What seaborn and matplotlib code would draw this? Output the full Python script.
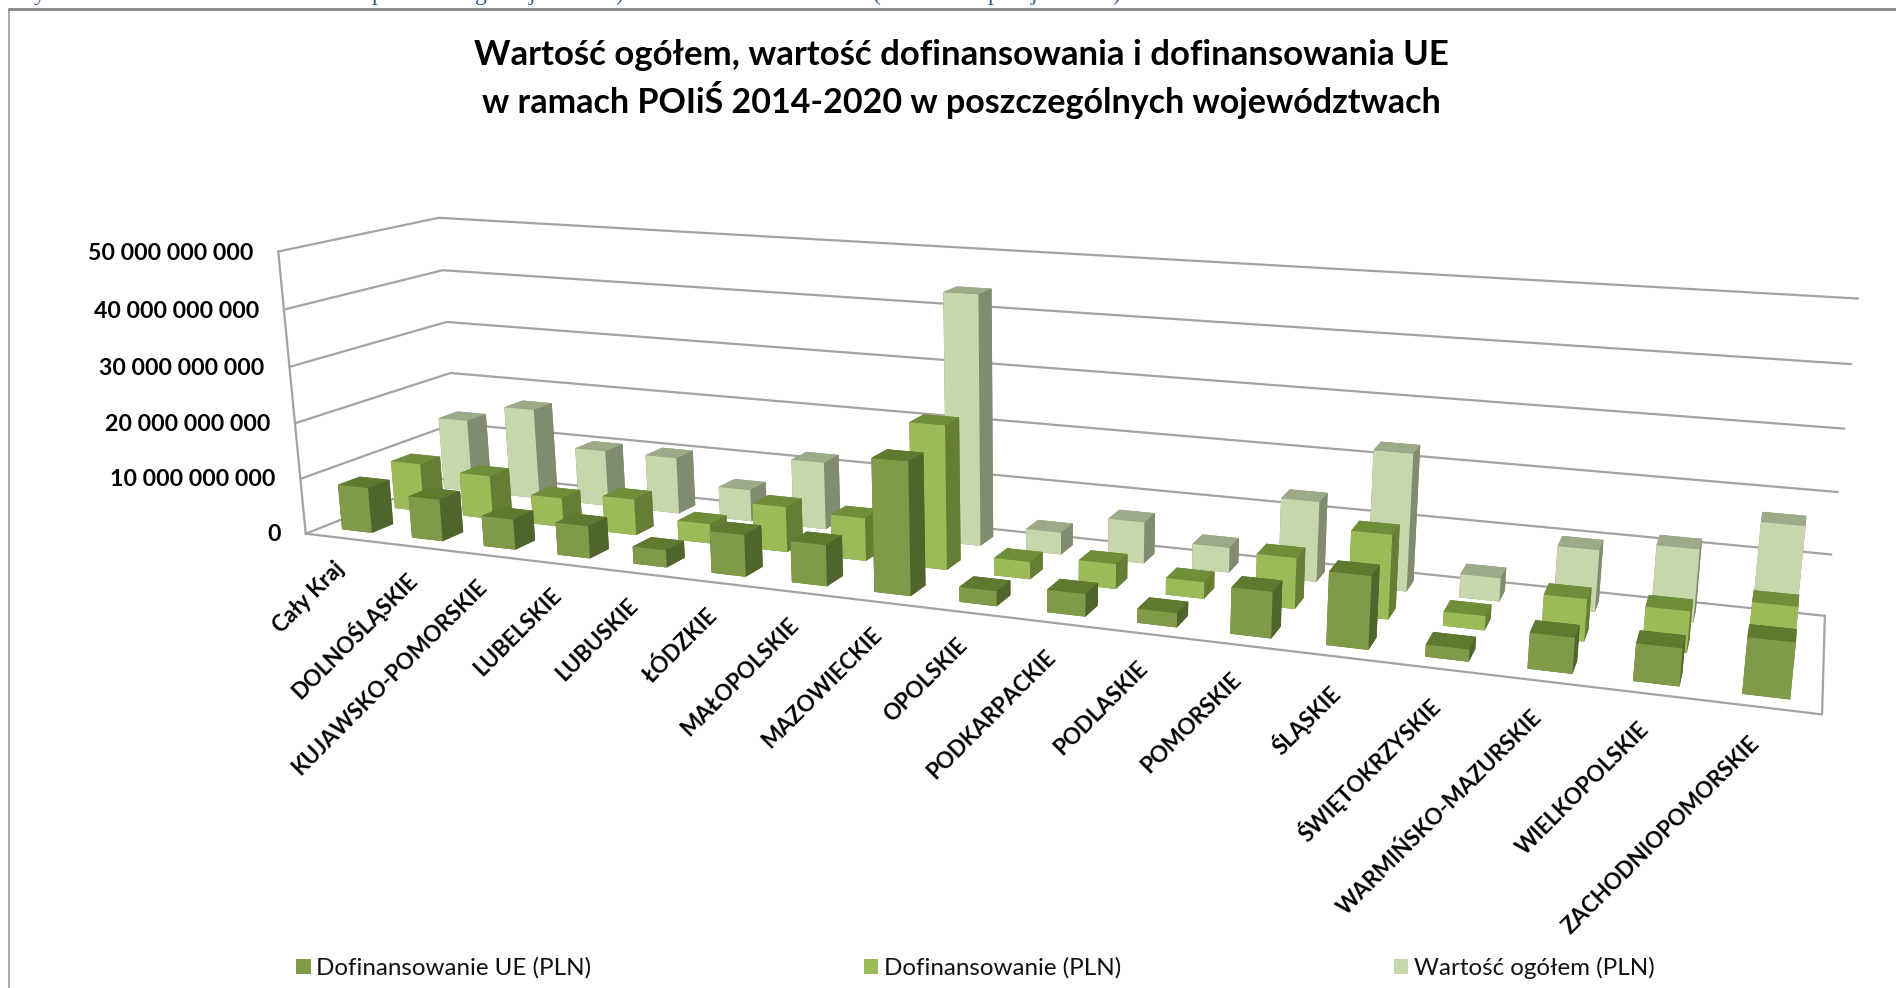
import numpy as np
import matplotlib
matplotlib.use("Agg")
import matplotlib.pyplot as plt
from matplotlib.lines import Line2D
from matplotlib.patches import Patch
from mpl_toolkits.mplot3d import proj3d
import seaborn as sns

# =============================================================================
# DATA (values in billions of PLN)
# =============================================================================
regions = ['Cały Kraj', 'DOLNOŚLĄSKIE', 'KUJAWSKO-POMORSKIE', 'LUBELSKIE', 'LUBUSKIE',
           'ŁÓDZKIE', 'MAŁOPOLSKIE', 'MAZOWIECKIE', 'OPOLSKIE', 'PODKARPACKIE',
           'PODLASKIE', 'POMORSKIE', 'ŚLĄSKIE', 'ŚWIĘTOKRZYSKIE', 'WARMIŃSKO-MAZURSKIE',
           'WIELKOPOLSKIE', 'ZACHODNIOPOMORSKIE']
dof_ue = [8.2, 7.5, 5.4, 5.7, 3.0, 7.2, 7.0, 22.3, 2.5, 3.7, 2.3, 7.4, 11.5, 1.9, 5.5, 5.7, 8.4]
dof = [8.9, 8.0, 5.3, 6.5, 3.5, 8.0, 7.5, 24.8, 3.0, 4.2, 2.8, 8.4, 13.7, 2.3, 6.7, 6.5, 8.9]
ogolem = [13.7, 17.0, 10.4, 10.4, 5.8, 12.2, 4.0, 44.0, 3.9, 7.2, 4.3, 13.6, 23.0, 3.9, 10.1, 11.8, 17.0]
z_ticks = [0, 10, 20, 30, 40, 50]
series_names = ['Dofinansowanie UE (PLN)', 'Dofinansowanie (PLN)', 'Wartość ogółem (PLN)']
title_lines = ['Wartość ogółem, wartość dofinansowania i dofinansowania UE',
               'w ramach POIiŚ 2014-2020 w poszczególnych województwach']
# the caption above the chart is cropped, only these descenders are left of it
caption_bits = ['y', 'p', 'g', 'j', ')', '(', 'p', 'j', ')']
caption_px = [40, 378, 481, 532, 619, 877, 994, 1034, 1116]

# front, top, side colour of each series
front_cols = ['#7F9A48', '#9BBB59', '#C6D7AC']
top_cols = ['#5F7A2F', '#6F8E3A', '#9CAA88']
side_cols = ['#50652B', '#667E33', '#7F8C70']

WIDTH, HEIGHT = 1896, 988
N_X, N_Y, Z_MAX = len(regions), 3, z_ticks[-1]
BAR_W, BAR_D = 0.43, 0.40

# corners of the chart box -> pixel position, to fit the Excel style perspective
corners = [
    ((0, 0, 0), (306, 532)),
    ((N_X, 0, 0), (1822, 716)),
    ((0, N_Y, 0), (458, 475)),
    ((N_X, N_Y, 0), (1825, 614)),
    ((0, 0, Z_MAX), (278, 252)),
    ((0, N_Y, Z_MAX), (439, 217)),
    ((N_X, N_Y, Z_MAX), (1858, 299)),
]


def fit_projection(pairs):
    A, b = [], []
    for (X, Y, Z), (u, v) in pairs:
        A.append([X, Y, Z, 1, 0, 0, 0, 0, -u * X, -u * Y, -u * Z])
        b.append(u)
        A.append([0, 0, 0, 0, X, Y, Z, 1, -v * X, -v * Y, -v * Z])
        b.append(v)
    h = np.linalg.lstsq(np.array(A, float), np.array(b, float), rcond=None)[0]
    w_row = np.r_[h[8:11], 1.0]
    return np.array([h[:4], h[4:8], w_row - [0, 0, 0, 0.5], w_row])


sns.set_theme(style='white')
plt.rcParams['font.family'] = ['Lato', 'DejaVu Sans']

fig = plt.figure(figsize=(WIDTH / 100, HEIGHT / 100), dpi=100, facecolor='white')
ax = fig.add_axes([0, 0, 1, 1], projection='3d', computed_zorder=False)
ax.set_proj_type('ortho')  # no clipping of lines, the matrix below does the perspective
M = fit_projection(corners)
ax.get_proj = lambda: M
ax.apply_aspect = lambda position=None: None
ax.viewLim.intervalx = (0, WIDTH)
ax.viewLim.intervaly = (HEIGHT, 0)
ax.set_axis_off()
ax.patch.set_visible(False)


def label_at(x, y, z, s, **kw):
    px, py, _ = proj3d.proj_transform(x, y, z, M)
    ax.text2D(px, py, s, transform=ax.transData, color='black', fontweight='bold', zorder=900, **kw)


# walls and floor
grid = dict(color='#A3A3A3', lw=1.6, zorder=1, solid_capstyle='round')
for z in z_ticks:
    ax.plot([0, 0, N_X], [0, N_Y, N_Y], [z, z, z], **grid)
    label_at(-0.36, 0, z - 0.6, f'{z * 10**9:,.0f}'.replace(',', ' '), ha='right', va='center', fontsize=16.7)
ax.plot([0, 0], [0, 0], [0, Z_MAX], **grid)
ax.plot([0, N_X, N_X], [0, 0, N_Y], [0, 0, 0], **grid)

# bars, back row first and left to right so that nearer ones cover the others
palette = sns.color_palette(front_cols)
for row, values in reversed(list(enumerate([dof_ue, dof, ogolem]))):
    for i, v in enumerate(values):
        # face order of bar3d: -z, +z, -y, +y, -x, +x
        cols = [side_cols[row], top_cols[row], palette[row], side_cols[row], side_cols[row], side_cols[row]]
        ax.bar3d(i + 0.5 - BAR_W / 2, row + 0.5 - BAR_D / 2, 0, BAR_W, BAR_D, v,
                 color=cols, shade=False, linewidth=0, zorder=10 + (2 - row) * 100 + i)

# Excel spaces the category labels a bit tighter than the bars
for i, name in enumerate(regions):
    label_at(0.96 + 0.964 * i, -0.7, 0, name, rotation=45, ha='right', va='top', rotation_mode='anchor', fontsize=16)

fig.text(961 / WIDTH, 1 - 55 / HEIGHT, title_lines[0], ha='center', va='center', fontsize=25,
         fontweight='bold', color='black')
fig.text(961 / WIDTH, 1 - 100 / HEIGHT, title_lines[1], ha='center', va='center', fontsize=24.45,
         fontweight='bold', color='black')

for ch, px in zip(caption_bits, caption_px):
    fig.text(px / WIDTH, 0.9995, ch, ha='center', va='baseline', fontsize=17, color='#2F5C94',
             family='Liberation Serif')

handles = [Patch(facecolor=c, edgecolor='none') for c in front_cols]
fig.legend(handles, series_names, ncol=3, loc='center left', bbox_to_anchor=(296 / WIDTH, 1 - 968 / HEIGHT),
           frameon=False, fontsize=17.4, handlelength=0.6, handleheight=0.6, handletextpad=0.23,
           columnspacing=11.28, labelcolor='#111111', borderpad=0, borderaxespad=0)

# frame of the chart, cropped at the bottom and right of the picture
fig.add_artist(Line2D([9 / WIDTH, 9 / WIDTH], [0, 1 - 9 / HEIGHT], color='#9A9A9A', lw=1.2))
fig.add_artist(Line2D([9 / WIDTH, 1], [1 - 9 / HEIGHT, 1 - 9 / HEIGHT], color='#858585', lw=2))

plt.savefig('out.png', dpi=100)
